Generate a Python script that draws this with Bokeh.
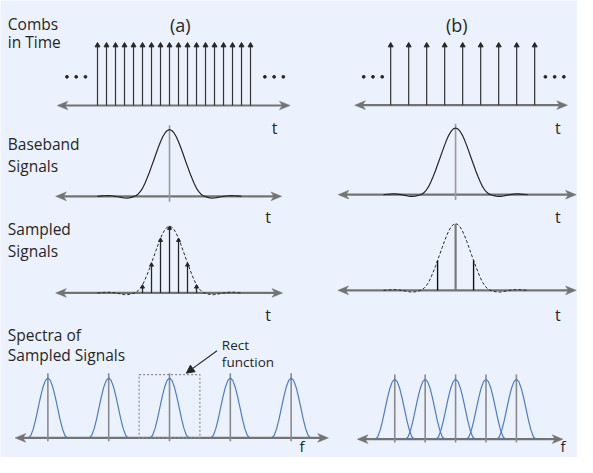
import numpy as np
from bokeh.plotting import figure
from bokeh.models import Range1d, Arrow, NormalHead
from bokeh.core.properties import value
from bokeh.embed import file_html
from bokeh.resources import INLINE

# ---------------- data ----------------
# comb teeth, in sampling periods of (a); comb (b) samples every 2 periods
comb_a_n = [-8, -7, -6, -5, -4, -3, -2, -1, 0, 1, 2, 3, 4, 5, 6, 7, 8, 9]
comb_b_n = [-4, -3, -2, -1, 0, 1, 2, 3, 4]
comb_b_period = 2
# baseband pulse, one side, every 0.25 sampling period of (a)
pulse_half = [1.000, 0.988, 0.951, 0.894, 0.819, 0.732, 0.638, 0.542, 0.449,
              0.355, 0.270, 0.190, 0.120, 0.070, 0.032, 0.008, -0.005, -0.015,
              -0.022, -0.026, -0.025, -0.020, -0.013, -0.006, 0.000, 0.005,
              0.009, 0.011, 0.011, 0.009, 0.006, 0.003, 0.000]
pulse_step = 0.25
# sample indices shown in the sampled signals
samp_a_n = [-3, -2, -1, 0, 1, 2, 3]
samp_b_n = [-1, 0, 1]
# spectral replicas (in units of the replica spacing of (a))
spec_k = [-2, -1, 0, 1, 2]
spec_b_spacing = 0.5
lobe_half = [1.00, 0.96, 0.85, 0.69, 0.50, 0.31, 0.15, 0.04, 0.00]
lobe_step = 0.04

row_label_lines = [["Combs", "in Time"], ["Baseband", "Signals"],
                   ["Sampled", "Signals"], ["Spectra of", "Sampled Signals"]]
col_titles = ["(a)", "(b)"]
rect_label = ["Rect", "function"]

# ---------------- layout / style ----------------
BG = "#ECF2FD"
AXC = "#737373"
INK = "#262626"
BLUE = "#4d7cc3"
FONT = value("Open Sans")

Ta = 9.25      # px per sampling period (a)
AMP = 69.0     # pulse amplitude px
FS = 62.5      # px per replica spacing (a)
LAMP = 62.0    # lobe amplitude px
xa, xb = 173.7, 467.7
comb_xa, comb_xb = 173.7, 475.0
Y = {(1, 'a'): 108.7, (1, 'b'): 108.3, (2, 'a'): 202.7, (2, 'b'): 201.0,
     (3, 'a'): 302.7, (3, 'b'): 300.0, (4, 'a'): 452.7, (4, 'b'): 454.0}
AXSPAN = {(1, 'a'): (58.3, 297.7), (1, 'b'): (364.0, 582.7),
          (2, 'a'): (56.7, 289.0), (2, 'b'): (347.0, 591.7),
          (3, 'a'): (56.7, 290.0), (3, 'b'): (346.7, 591.7),
          (4, 'a'): (15.0, 337.0), (4, 'b'): (366.7, 578.0)}

p = figure(width=577, height=457, output_backend="svg", toolbar_location=None,
           x_range=Range1d(0, 593), y_range=Range1d(473, 0),
           min_border=0)
p.axis.visible = False
p.grid.visible = False
p.outline_line_color = None
p.background_fill_color = BG
p.border_fill_color = BG

# full pulse
pulse_v = pulse_half[:0:-1] + pulse_half
npts = len(pulse_half) - 1
pulse_t = [(i - npts) * pulse_step for i in range(len(pulse_v))]
lobe_v = lobe_half[:0:-1] + lobe_half
nl = len(lobe_half) - 1
lobe_f = [(i - nl) * lobe_step for i in range(len(lobe_v))]


def pulse_at(t):
    return pulse_half[int(round(abs(t) / pulse_step))]


# ---------------- axes with arrowheads ----------------
ax_x0, ax_x1, ax_y = [], [], []
heads_x, heads_y = [], []
for key, (x0, x1) in AXSPAN.items():
    y = Y[key]
    ax_x0.append(x0 + 5)
    ax_x1.append(x1 - 5)
    ax_y.append(y)
    for tip, d in [(x1, -1.0), (x0, 1.0)]:
        heads_x.append([tip, tip + d * 11, tip + d * 8, tip + d * 11])
        heads_y.append([y, y - 4.5, y, y + 4.5])
p.segment(x0=ax_x0, y0=ax_y, x1=ax_x1, y1=ax_y, line_color=AXC, line_width=2.2)
p.patches(xs=heads_x, ys=heads_y, fill_color=AXC, line_color=AXC, line_width=0.5)

# ---------------- row 1: combs ----------------
TIP = 44.0
for n_list, cx, per, key in [(comb_a_n, comb_xa, 1, (1, 'a')),
                             (comb_b_n, comb_xb, comb_b_period, (1, 'b'))]:
    xs = [cx + n * per * Ta for n in n_list]
    y0 = Y[key]
    p.segment(x0=xs, y0=[y0] * len(xs), x1=xs, y1=[TIP + 3] * len(xs),
              line_color="#333333", line_width=1.2)
    p.scatter(x=xs, y=[TIP + 2.5] * len(xs), marker="triangle", size=5,
              fill_color=INK, line_color=INK)

# ellipsis dots
dot_x, dot_y = [], []
for base in [68.3, 271.7, 373.3, 560.0]:
    for j in range(3):
        dot_x.append(base + j * 9.5)
        dot_y.append(79.0)
p.scatter(x=dot_x, y=dot_y, size=2.8, fill_color=INK, line_color=INK)

# ---------------- row 2: baseband ----------------
for cx, key in [(xa, (2, 'a')), (xb, (2, 'b'))]:
    y0 = Y[key]
    p.segment(x0=[cx], y0=[y0 + 5.5], x1=[cx], y1=[y0 - AMP - 4.5],
              line_color="#9a9a9a", line_width=1.6)
    p.line(x=[cx + t * Ta for t in pulse_t], y=[y0 - v * AMP for v in pulse_v],
           line_color=INK, line_width=1.2)

# ---------------- row 3: sampled ----------------
for cx, key, nl_, per in [(xa, (3, 'a'), samp_a_n, 1),
                          (xb, (3, 'b'), samp_b_n, comb_b_period)]:
    y0 = Y[key]
    p.line(x=[cx + t * Ta for t in pulse_t], y=[y0 - v * AMP for v in pulse_v],
           line_color=INK, line_width=1.0, line_dash="3 2")
    sx = [cx + n * per * Ta for n in nl_]
    sy = [y0 - pulse_at(n * per) * AMP for n in nl_]
    if key[1] == 'a':
        p.segment(x0=sx, y0=[y0] * len(sx), x1=sx, y1=[v + 2 for v in sy],
                  line_color=INK, line_width=1.3)
        p.scatter(x=sx, y=[v + 2 for v in sy], marker="triangle", size=4,
                  fill_color=INK, line_color=INK)
    else:
        side = [i for i, n in enumerate(nl_) if n != 0]
        p.segment(x0=[sx[i] for i in side], y0=[y0] * len(side),
                  x1=[sx[i] for i in side], y1=[sy[i] for i in side],
                  line_color="#111111", line_width=1.4)
        mid = [i for i, n in enumerate(nl_) if n == 0]
        p.segment(x0=[sx[i] for i in mid], y0=[y0] * len(mid),
                  x1=[sx[i] for i in mid], y1=[sy[i] for i in mid],
                  line_color="#7a7a7a", line_width=2.2)

# ---------------- row 4: spectra ----------------
for cx, key, sp in [(xa, (4, 'a'), 1.0), (xb, (4, 'b'), spec_b_spacing)]:
    y0 = Y[key]
    centers = [cx + k * sp * FS for k in spec_k]
    p.segment(x0=centers, y0=[y0 + 3.5] * len(centers), x1=centers,
              y1=[y0 - LAMP - 5] * len(centers), line_color="#8a8a8a", line_width=1.6)
    xs = [[c + f * FS for f in lobe_f] for c in centers]
    ys = [[y0 - v * LAMP for v in lobe_v] for _ in centers]
    p.multi_line(xs=xs, ys=ys, line_color=BLUE, line_width=1.2)

# rect function box around the central replica of (a)
y4 = Y[(4, 'a')]
p.quad(left=[xa - 0.5 * FS], right=[xa + 0.5 * FS], top=[y4 - LAMP - 3.5],
       bottom=[y4], fill_alpha=0, line_color="#8c8c8c", line_width=1.2,
       line_dash="2 2")
p.add_layout(Arrow(end=NormalHead(size=8, fill_color=INK, line_color=INK),
                   x_start=222.5, y_start=362.5, x_end=xa + 0.5 * FS - 14,
                   y_end=y4 - LAMP - 5, line_color=INK, line_width=1.1))

# ---------------- texts ----------------
tx, ty, tt = [], [], []
label_base = [(24.0, 43.3), (148.7, 171.3), (236.7, 259.3), (346.0, 367.3)]
for lines, (b1, b2) in zip(row_label_lines, label_base):
    tx += [7.5, 7.5]
    ty += [b1, b2]
    tt += lines
p.text(x=tx, y=ty, text=tt, text_font=FONT, text_font_size="15.5px",
       text_color=INK, text_baseline="alphabetic", text_align="left")

p.text(x=[227.5, 227.5], y=[356.7, 374.0], text=rect_label, text_font=FONT,
       text_font_size="13.5px", text_color=INK, text_baseline="alphabetic",
       text_align="left")

p.text(x=[184.7, 469.0], y=[25.5, 25.5], text=col_titles, text_font=FONT,
       text_font_size="18px", text_color=INK, text_baseline="alphabetic",
       text_align="center")

p.text(x=[281.7, 275.0, 275.0, 572.7, 572.7, 572.7],
       y=[131.5, 224.5, 325.0, 131.5, 224.5, 326.0],
       text=["t"] * 6, text_font=FONT, text_font_size="16px", text_color=INK,
       text_baseline="alphabetic", text_align="center")
p.text(x=[310.0, 578.0], y=[461.0, 461.0], text=["f", "f"], text_font=FONT,
       text_font_size="15px", text_color=INK, text_baseline="alphabetic",
       text_align="center")

open("out.html", "w").write(file_html(p, INLINE))
